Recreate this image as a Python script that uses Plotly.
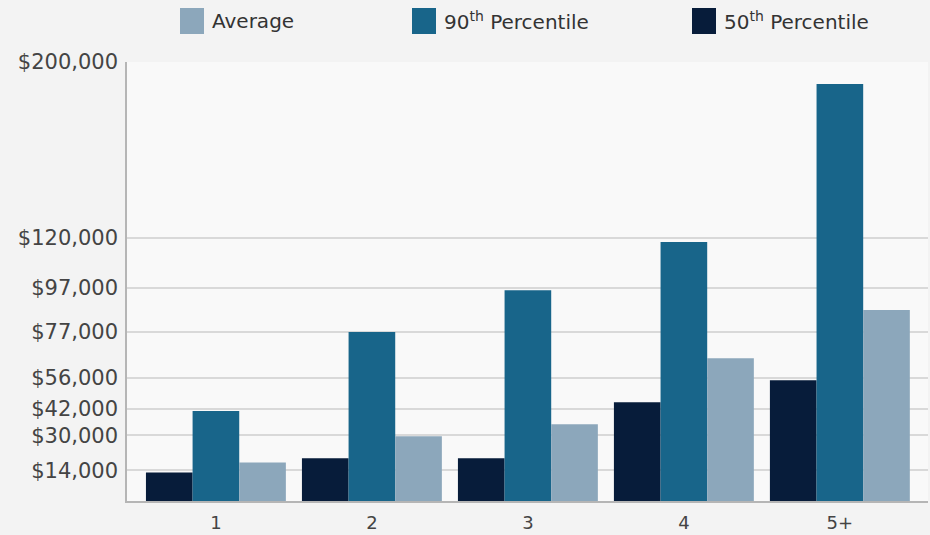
import plotly.graph_objects as go

categories = ["1", "2", "3", "4", "5+"]
p50 = [13000, 19500, 19500, 45000, 55000]
p90 = [41000, 77000, 96000, 118000, 190000]
average = [17500, 29500, 35000, 65000, 87000]
tick_vals = [14000, 30000, 42000, 56000, 77000, 97000, 120000, 200000]
tick_text = ["$14,000", "$30,000", "$42,000", "$56,000", "$77,000", "$97,000", "$120,000", "$200,000"]

C50 = "#071c3a"
C90 = "#18658a"
CAVG = "#8ca7bb"
FONT = "DejaVu Sans"

fig = go.Figure()
fig.add_bar(x=categories, y=p50, name="50th Percentile", marker=dict(color=C50, line_width=0))
fig.add_bar(x=categories, y=p90, name="90th Percentile", marker=dict(color=C90, line_width=0))
fig.add_bar(x=categories, y=average, name="Average", marker=dict(color=CAVG, line_width=0))

W, H = 930, 535
L, R, T, B = 127, 2, 62, 34
pw, ph = W - L - R, H - T - B

def px(x):
    return (x - L) / pw

def py(y):
    return (H - B - y) / ph

legend_items = [("Average", CAVG, 180),
                ("90<sup>th</sup> Percentile", C90, 412),
                ("50<sup>th</sup> Percentile", C50, 692)]
shapes = []
annotations = []
for label, col, x0 in legend_items:
    shapes.append(dict(type="rect", xref="paper", yref="paper",
                       x0=px(x0), x1=px(x0 + 24), y0=py(34), y1=py(8),
                       fillcolor=col, line_width=0, layer="above"))
    annotations.append(dict(xref="paper", yref="paper", x=px(x0 + 30), y=py(21),
                            text=label, showarrow=False, xanchor="left", yanchor="middle",
                            font=dict(family=FONT, size=20, color="#333333")))

fig.update_layout(
    width=W, height=H,
    margin=dict(l=L, r=R, t=T, b=B, autoexpand=False),
    paper_bgcolor="#f3f3f3",
    plot_bgcolor="#f9f9f9",
    barmode="group",
    bargap=0.103,
    bargroupgap=0,
    showlegend=False,
    shapes=shapes,
    annotations=annotations,
    font=dict(family=FONT, color="#444444"),
)
fig.update_xaxes(
    type="category", range=[-0.57, 4.565], automargin=False,
    showline=True, linecolor="#b5b5b5", linewidth=1.5,
    showgrid=False, ticks="", ticklabelstandoff=5,
    tickfont=dict(size=18, color="#444444"),
)
fig.update_yaxes(
    range=[0, 200000], tickvals=tick_vals, ticktext=tick_text, automargin=False,
    showline=True, linecolor="#b5b5b5", linewidth=1.5,
    showgrid=True, gridcolor="#d9d9d9", gridwidth=2,
    zeroline=False, ticks="", ticklabelstandoff=3,
    tickfont=dict(size=21, color="#444444"),
)

fig.write_html("out.html")
